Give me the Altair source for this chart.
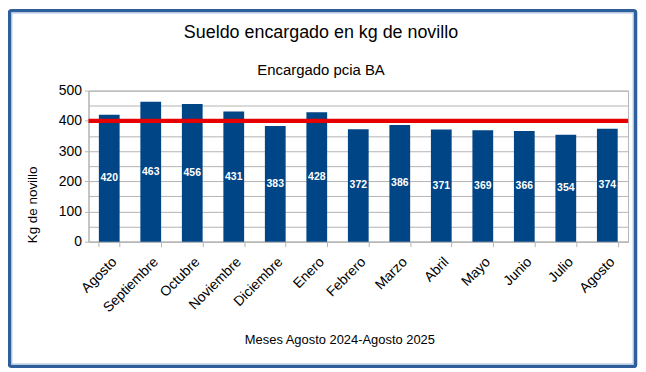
import json
import altair as alt
import pandas as pd

# ---- data ----
months = ["Agosto", "Septiembre", "Octubre", "Noviembre", "Diciembre", "Enero",
          "Febrero", "Marzo", "Abril", "Mayo", "Junio", "Julio", "Agosto"]
values = [420, 463, 456, 431, 383, 428, 372, 386, 371, 369, 366, 354, 374]
reference_line = [400]
y_ticks = [0, 50, 100, 150, 200, 250, 300, 350, 400, 450, 500]
y_domain = [0, 500]

title_text = "Sueldo encargado en kg de novillo"
subtitle_text = "Encargado pcia BA"
x_title = "Meses Agosto 2024-Agosto 2025"
y_title = "Kg de novillo"

keys = [str(i) for i in range(len(months))]
df = pd.DataFrame({"key": keys, "mes": months, "valor": values})
ref_df = pd.DataFrame({"ref": reference_line})

# ---- style ----
W, H = 543, 152
FONT = "Liberation Sans"
BAR = "#004586"
GRID = "#b3b3b3"

label_expr = json.dumps(months) + "[toNumber(datum.value)]"

x_scale = alt.Scale(paddingInner=0.5, paddingOuter=0.25)
x_axis = alt.Axis(title=None, labelExpr=label_expr, labelAngle=-45, tickBand="extent",
                  tickSize=5, tickColor=GRID, domainColor=GRID, labelFont=FONT,
                  labelFontSize=14, labelColor="#000000", labelPadding=8, grid=False,
                  labelOverlap=False)
y_scale = alt.Scale(domain=y_domain, nice=False)
y_axis = alt.Axis(
    title=None, values=y_ticks,
    labelExpr="datum.value % 100 === 0 ? datum.label : ''",
    labelOverlap=False,
    tickSize=4, tickColor=GRID,
    tickOpacity={"condition": {"test": "datum.value % 100 === 0", "value": 1}, "value": 0},
    domainColor=GRID, gridColor=GRID, grid=True,
    labelFont=FONT, labelFontSize=14, labelColor="#000000", labelPadding=3,
)

bars = alt.Chart(df).mark_bar(color=BAR).encode(
    x=alt.X("key:N", sort=keys, scale=x_scale, axis=x_axis),
    y=alt.Y("valor:Q", scale=y_scale, axis=y_axis),
)

rule = alt.Chart(ref_df).mark_rule(color="#e60000", strokeWidth=4.3).encode(
    y=alt.Y("ref:Q", scale=y_scale, axis=y_axis)
)

labels = alt.Chart(df).transform_calculate(half="datum.valor / 2").mark_text(
    color="white", font=FONT, fontWeight="bold", fontSize=10.5, baseline="middle"
).encode(
    x=alt.X("key:N", sort=keys, scale=x_scale, axis=x_axis),
    y=alt.Y("half:Q", scale=y_scale, axis=y_axis),
    text="valor:Q",
)


def text_layer(txt, x, y, size, angle=0):
    return alt.Chart(pd.DataFrame({"t": [txt]})).mark_text(
        font=FONT, fontSize=size, color="#000000", align="center",
        baseline="alphabetic" if angle == 0 else "middle", angle=angle
    ).encode(x=alt.value(x), y=alt.value(y), text="t:N")


title = text_layer(title_text, 234, -52.5, 18)
subtitle = text_layer(subtitle_text, 234, -15.5, 15)
xtitle = text_layer(x_title, 253, 254.5, 13)
ytitle = text_layer(y_title, -56, 115, 13.5, angle=270)

border = alt.Chart(pd.DataFrame({"b": [1]})).mark_rect(
    filled=False, stroke="#2f5f9a", strokeWidth=3.5, cornerRadius=2
).encode(x=alt.value(-79.5), x2=alt.value(550.5), y=alt.value(-80.5), y2=alt.value(277.5))

inner = alt.Chart(pd.DataFrame({"b": [1]})).mark_rect(
    filled=False, stroke="#b8cce6", strokeWidth=1
).encode(x=alt.value(-77), x2=alt.value(548), y=alt.value(-78), y2=alt.value(275))

chart = alt.layer(bars, rule, labels, title, subtitle, xtitle, ytitle, inner, border).properties(
    width=W, height=H,
    autosize=alt.AutoSizeParams(type="none"),
    padding={"left": 81, "top": 82, "right": 10, "bottom": 128},
    background="white",
).configure_view(stroke=GRID, strokeWidth=1)

chart.save("out.html", embed_options={"renderer": "svg", "actions": False})
